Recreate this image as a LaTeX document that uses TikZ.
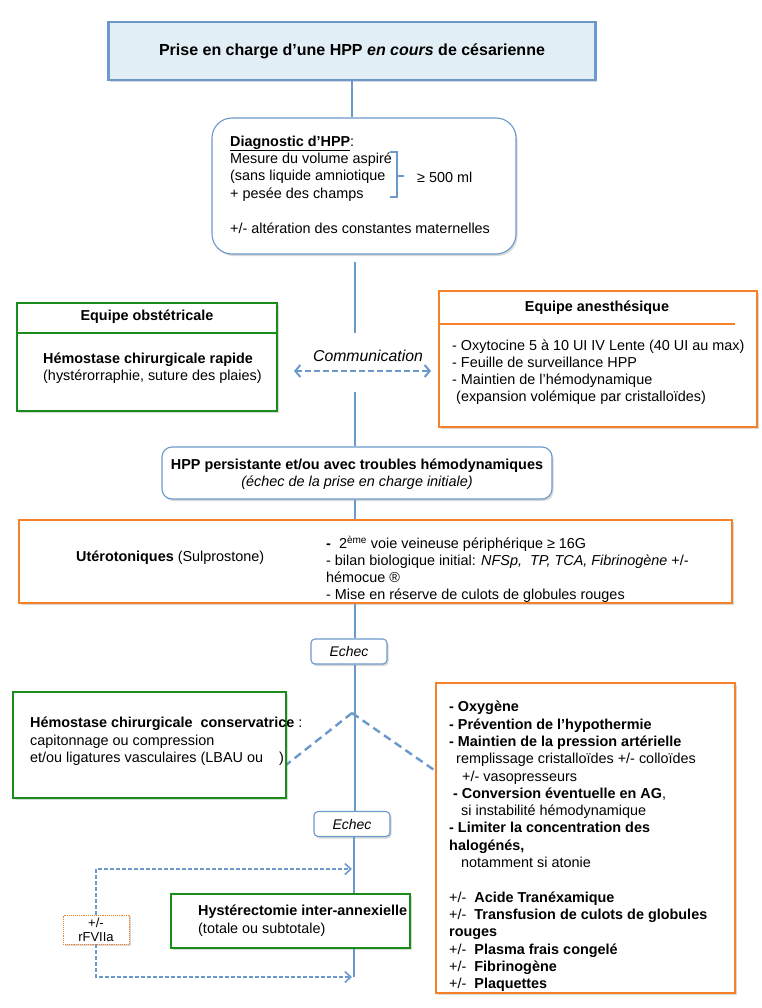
\documentclass[tikz,border=0pt]{standalone}
\usepackage{fontspec}
\setmainfont{Liberation Sans}
\usetikzlibrary{arrows.meta,shadows}
\definecolor{lblue}{RGB}{108,153,203}
\definecolor{tfill}{RGB}{225,238,245}
\definecolor{ogreen}{RGB}{25,140,25}
\definecolor{orng}{RGB}{245,130,40}
\begin{document}
\begin{tikzpicture}[x=1pt,y=-1pt,
  txt/.style={font=\fontsize{14.4}{17.4}\selectfont, inner sep=0pt, align=left},
  ctxt/.style={font=\fontsize{14.4}{17.4}\selectfont, inner sep=0pt, align=center},
  shad/.style={drop shadow={shadow xshift=1.5pt, shadow yshift=-2pt, opacity=0.25, fill=black!60}},
  titlebox/.style={draw=lblue, line width=2.8pt, fill=tfill, shad, font=\fontsize{16}{19}\selectfont\bfseries},
  rbox/.style={draw=lblue, line width=1.1pt, fill=white, shad},
  gbox/.style={draw=ogreen, line width=1.6pt, fill=white, shad},
  obox/.style={draw=orng, line width=1.6pt, fill=white, shad},
  conn/.style={draw=lblue, line width=2.6pt},
  dconn/.style={draw=lblue, line width=2.4pt, dash pattern=on 8pt off 5pt},
  darr/.style={draw=lblue, line width=1.3pt, dash pattern=on 3.5pt off 2.5pt, -{Straight Barb[length=6pt,width=11pt,line width=1.6pt]}},
  commarr/.style={draw=lblue, line width=2.2pt, dash pattern=on 6pt off 3pt, {Straight Barb[length=5pt,width=12pt,line width=2pt]}-{Straight Barb[length=5pt,width=12pt,line width=2pt]}}
]
\useasboundingbox (0,0) rectangle (762,1008);

% main vertical axis
\coordinate (m) at (355,0);

% title
\node[titlebox, minimum width=487pt, minimum height=58pt] (title) at (352,51)
  {Prise en charge d’une HPP \textit{en cours} de césarienne};

% diagnostic
\node[rbox, rounded corners=20pt, minimum width=304pt, minimum height=136pt] (diag) at (364,186) {};
\draw[conn] (title.south) -- (title.south |- diag.north);
\node[txt, anchor=west] (diagtxt) at (230,184.5)
  {\underline{\textbf{Diagnostic d’HPP}}:\\
   Mesure du volume aspiré\\
   (sans liquide amniotique\\
   + pesée des champs\\[17.4pt]
   +/- altération des constantes maternelles};
\draw[lblue, line width=2pt] (390,152) -- (397,152) -- (397,197) -- (390,197);
\draw[lblue, line width=2pt] (397,176) -- (404,176);
\node[txt, anchor=west] (seuil) at (417,177) {≥ 500 ml};

% axis below diag
\coordinate (c1) at (355,262);
\coordinate (c2) at (355,333);
\coordinate (c3) at (355,392);
\draw[conn] (c1) -- (c2);

% equipe obstetricale
\node[gbox, minimum width=260pt, minimum height=108pt] (obst) at (147,357) {};
\draw[ogreen, line width=1.6pt] (obst.west |- 0,333) -- (obst.east |- 0,333);
\node[ctxt, font=\fontsize{14.4}{17}\selectfont\bfseries] (obsth) at (147,317) {Equipe obstétricale};
\node[txt, anchor=west] (obstb) at (43,368.5)
  {\textbf{Hémostase chirurgicale rapide}\\
   (hystérorraphie, suture des plaies)};

% equipe anesthesique
\node[obox, minimum width=318pt, minimum height=136pt] (anest) at (598,359) {};
\draw[orng, line width=1.6pt] (anest.west |- 0,324) -- (735,324);
\node[ctxt, font=\fontsize{14.4}{17}\selectfont\bfseries] (anesth) at (597,308) {Equipe anesthésique};
\node[txt, anchor=west, font=\fontsize{14.4}{17}\selectfont] (anestb) at (452,372.5)
  {- Oxytocine 5 à 10 UI IV Lente (40 UI au max)\\
   - Feuille de surveillance HPP\\
   - Maintien de l'hémodynamique\\
   \hspace*{4pt}(expansion volémique par cristalloïdes)};

% communication
\node[ctxt, font=\fontsize{15.8}{18}\selectfont\itshape] (comm) at (368,356) {Communication};
\coordinate (cL) at (294,371);
\coordinate (cR) at (431,371);
\draw[commarr] (cL) -- (cR);

% HPP persistante
\node[rbox, rounded corners=10pt, minimum width=390pt, minimum height=52pt] (hpp) at (357,473) {};
\draw[conn] (c3) -- (c3 |- hpp.north);
\node[ctxt] (hpptxt) at (357,474)
  {\textbf{HPP persistante et/ou avec troubles hémodynamiques}\\
   \textit{(échec de la prise en charge initiale)}};

% uterotoniques
\node[obox, minimum width=713pt, minimum height=83pt] (utero) at (375.5,561.5) {};
\draw[conn] (hpp.south -| m) -- (utero.north -| m);
\node[txt, anchor=west] (uterol) at (76,558) {\textbf{Utérotoniques} (Sulprostone)};
\node[txt, anchor=west, font=\fontsize{14.4}{17}\selectfont] (uteror) at (326,569.5)
  {\textbf{-}\ \ 2\textsuperscript{ème} voie veineuse périphérique ≥ 16G\\
   - bilan biologique initial: \textit{NFSp,\ \ TP, TCA, Fibrinogène} +/-\\
   hémocue ®\\
   - Mise en réserve de culots de globules rouges};

% echec 1
\node[rbox, rounded corners=4pt, minimum width=76pt, minimum height=25pt, font=\fontsize{14}{16}\selectfont\itshape] (echec1) at (349,651.5) {Echec};
\draw[conn] (utero.south -| m) -- (echec1.north -| m);

% echec 2
\node[rbox, rounded corners=4pt, minimum width=76pt, minimum height=25pt, font=\fontsize{14}{16}\selectfont\itshape] (echec2) at (352,824) {Echec};
\draw[conn] (echec1.south -| m) -- (echec2.north -| m);

% bottom of axis
\coordinate (bot) at (354,977);
\draw[conn] (echec2.south -| bot) -- (bot);

% dashed branches
\coordinate (apex) at (352,713);
\coordinate (dL) at (286,765);
\coordinate (dR) at (437,772);
\draw[dconn] (apex) -- (dL);
\draw[dconn] (apex) -- (dR);

% hemostase conservatrice
\node[gbox, minimum width=273pt, minimum height=106pt] (cons) at (149.5,745) {};
\node[txt, anchor=west] (constxt) at (30,741.5)
  {\textbf{Hémostase chirurgicale\ \ conservatrice} :\\
   capitonnage ou compression\\
   et/ou ligatures vasculaires (LBAU ou \ \ \ )};

% reanimation
\node[obox, minimum width=299pt, minimum height=310pt] (rea) at (585.5,838) {};
\node[txt, anchor=west, font=\fontsize{14.4}{17.3}\selectfont] (reatxt) at (449,846.5)
  {\textbf{- Oxygène}\\
   \textbf{- Prévention de l’hypothermie}\\
   \textbf{- Maintien de la pression artérielle}\\
   \hspace*{7pt}remplissage cristalloïdes +/- colloïdes\\
   \hspace*{13pt}+/- vasopresseurs\\
   \hspace*{4pt}\textbf{- Conversion éventuelle en AG},\\
   \hspace*{12pt}si instabilité hémodynamique\\
   \textbf{- Limiter la concentration des}\\
   \textbf{halogénés,}\\
   \hspace*{12pt}notamment si atonie\\[17.3pt]
   +/-\ \ \textbf{Acide Tranéxamique}\\
   +/-\ \ \textbf{Transfusion de culots de globules}\\
   \textbf{rouges}\\
   +/-\ \ \textbf{Plasma frais congelé}\\
   +/-\ \ \textbf{Fibrinogène}\\
   +/-\ \ \textbf{Plaquettes}};

% rFVIIa loop
\coordinate (a1) at (352,869);
\coordinate (a2) at (352,977);
\node[draw=orng, densely dotted, line width=0.9pt, fill=white, minimum width=66pt, minimum height=29pt, inner sep=1pt, align=center, font=\fontsize{13}{14}\selectfont, shad] (rf) at (96,929.5) {+/-\\rFVIIa};
\draw[darr] (rf.north) |- (a1);
\draw[darr] (rf.south) |- (a2);

% hysterectomie
\node[gbox, minimum width=239pt, minimum height=54pt] (hyst) at (290.5,921) {};
\node[txt, anchor=west] (hysttxt) at (198,920.5)
  {\textbf{Hystérectomie inter-annexielle}\\
   (totale ou subtotale)};
\end{tikzpicture}
\end{document}
